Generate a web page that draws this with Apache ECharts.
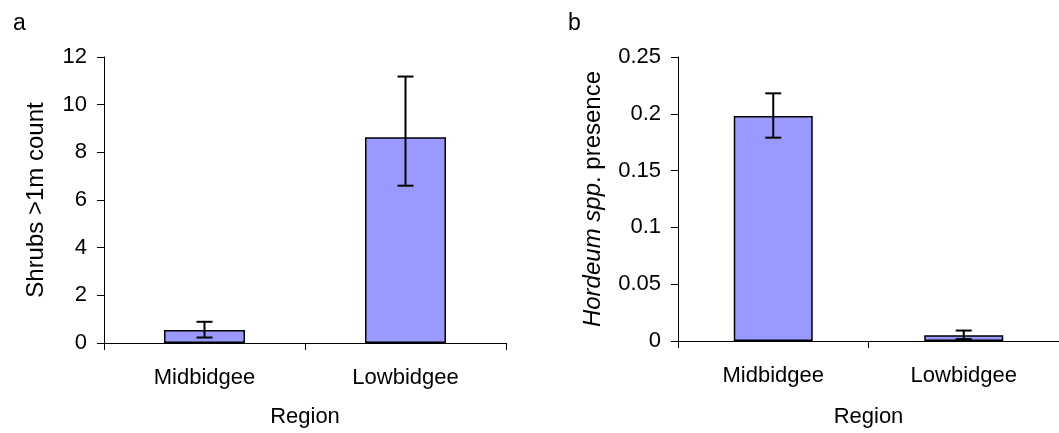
<!DOCTYPE html>
<html>
<head>
<meta charset="utf-8">
<script src="https://cdn.jsdelivr.net/npm/echarts@6/dist/echarts.min.js"></script>
<style>
html,body{margin:0;padding:0;background:#fff;}
#c{width:1059px;height:433px;}
</style>
</head>
<body>
<div id="c"></div>
<script>
const categories = ['Midbidgee', 'Lowbidgee'];
const shrubValues = [0.55, 8.63];
const shrubLow = [0.23, 6.6];
const shrubHigh = [0.89, 11.18];
const hordeumValues = [0.198, 0.005];
const hordeumLow = [0.179, 0.0017];
const hordeumHigh = [0.218, 0.0092];
const shrubTicks = { min: 0, max: 12, interval: 2 };
const hordeumTicks = { min: 0, max: 0.25, interval: 0.05 };

const FONT = '"Liberation Sans", Arial, sans-serif';
const FS = 22;
const NFS = 24;
const BAR_COLOR = '#9999FF';

function errorItem(capW) {
  return function (params, api) {
    const x = api.value(0);
    const p1 = api.coord([x, api.value(1)]);
    const p2 = api.coord([x, api.value(2)]);
    const st = { stroke: '#000', lineWidth: 2 };
    return {
      type: 'group',
      children: [
        { type: 'line', shape: { x1: p1[0], y1: p1[1], x2: p2[0], y2: p2[1] }, style: st },
        { type: 'line', shape: { x1: p1[0] - capW / 2, y1: p1[1], x2: p1[0] + capW / 2, y2: p1[1] }, style: st },
        { type: 'line', shape: { x1: p2[0] - capW / 2, y1: p2[1], x2: p2[0] + capW / 2, y2: p2[1] }, style: st }
      ]
    };
  };
}

function xAxisCfg(gridIndex, nameGap) {
  return {
    type: 'category', gridIndex, data: categories,
    name: 'Region', nameLocation: 'middle', nameGap,
    nameTextStyle: { fontFamily: FONT, fontSize: FS, color: '#000' },
    axisLine: { lineStyle: { color: '#000', width: 1 } },
    axisTick: { show: true, length: 7, alignWithLabel: false, lineStyle: { color: '#000' } },
    axisLabel: { fontFamily: FONT, fontSize: FS, color: '#000', margin: 24 },
    splitLine: { show: false }
  };
}

function yAxisCfg(gridIndex, ticks, name, nameGap, rich) {
  return {
    type: 'value', gridIndex, min: ticks.min, max: ticks.max, interval: ticks.interval,
    name, nameLocation: 'middle', nameGap, nameRotate: 90,
    nameTextStyle: { fontFamily: FONT, fontSize: NFS, color: '#000', rich: rich || {} },
    axisLine: { show: true, lineStyle: { color: '#000', width: 1 } },
    axisTick: { show: true, length: 7, lineStyle: { color: '#000' } },
    axisLabel: { fontFamily: FONT, fontSize: FS, color: '#000', margin: 17 },
    splitLine: { show: false }
  };
}

const chart = echarts.init(document.getElementById('c'), null, { renderer: 'canvas' });
chart.setOption({
  animation: false,
  backgroundColor: '#fff',
  title: [
    { text: 'a', left: 8, top: 7, textStyle: { fontFamily: FONT, fontSize: 23, fontWeight: 'normal', color: '#000' } },
    { text: 'b', left: 563, top: 7, textStyle: { fontFamily: FONT, fontSize: 23, fontWeight: 'normal', color: '#000' } }
  ],
  grid: [
    { left: 104, top: 57, width: 402, height: 290 },
    { left: 678, top: 57, width: 389, height: 287 }
  ],
  xAxis: [xAxisCfg(0, 63), xAxisCfg(1, 65)],
  yAxis: [
    yAxisCfg(0, shrubTicks, 'Shrubs >1m count', 56),
    yAxisCfg(1, hordeumTicks, '{i|Hordeum spp}. presence', 73,
      { i: { fontFamily: FONT, fontSize: NFS, fontStyle: 'italic', color: '#000' } })
  ],
  series: [
    {
      type: 'bar', xAxisIndex: 0, yAxisIndex: 0, data: shrubValues, barWidth: 81,
      itemStyle: { color: BAR_COLOR, borderColor: '#000', borderWidth: 1.5 }
    },
    {
      type: 'custom', xAxisIndex: 0, yAxisIndex: 0, z: 5,
      data: categories.map((c, i) => [i, shrubLow[i], shrubHigh[i]]),
      renderItem: errorItem(16)
    },
    {
      type: 'bar', xAxisIndex: 1, yAxisIndex: 1, data: hordeumValues, barWidth: 79,
      itemStyle: { color: BAR_COLOR, borderColor: '#000', borderWidth: 1.5 }
    },
    {
      type: 'custom', xAxisIndex: 1, yAxisIndex: 1, z: 5,
      data: categories.map((c, i) => [i, hordeumLow[i], hordeumHigh[i]]),
      renderItem: errorItem(16)
    }
  ]
});
</script>
</body>
</html>
